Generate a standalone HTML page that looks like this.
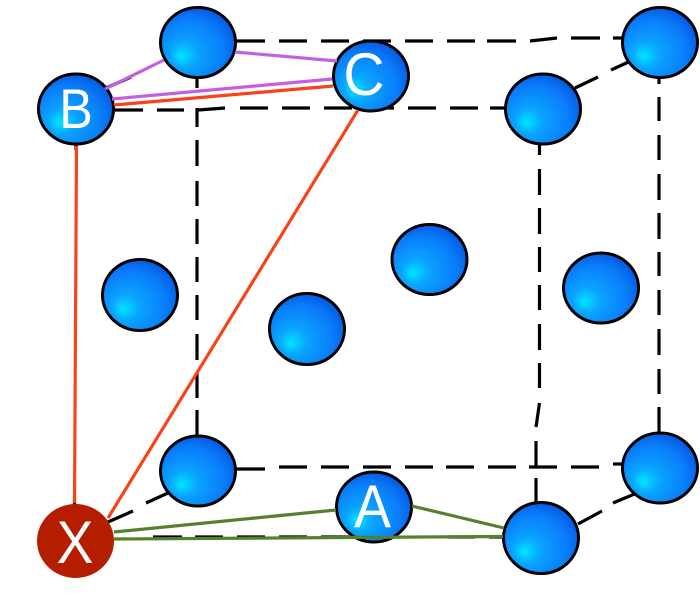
<!DOCTYPE html>
<html><head><meta charset="utf-8"><style>
html,body{margin:0;padding:0;background:#fff;width:700px;height:599px;overflow:hidden}
svg{display:block}
text{font-family:"Liberation Sans",sans-serif;fill:#fff;text-anchor:middle}
</style></head><body>
<svg width="700" height="599" viewBox="0 0 700 599" xmlns="http://www.w3.org/2000/svg">
<defs>
<radialGradient id="g" cx="0.42" cy="0.62" r="0.66" fx="0.27" fy="0.70">
<stop offset="0" stop-color="#00e6ff"/>
<stop offset="0.28" stop-color="#0aa4ff"/>
<stop offset="0.72" stop-color="#0a7cfa"/>
<stop offset="1" stop-color="#0456e0"/>
</radialGradient>
</defs>
<g stroke="#000" stroke-width="3.2" fill="none">
<path d="M236 41H265M279 41H307M321 41H349M363 41H391M405 41H433M447 41H475M487 41H516M530 41L557 38M571 38H600M613 38H624"/>
<path d="M114 110H143M157 110H184M198 110L225 108M240 108H268M282 108H310M324 108H352M366 108H394M408 108H436M450 108H478M490 108H506"/>
<path d="M197 78V88M197 108V127M197 140V166M197 181V206M197 219V244M197 257V282M197 295V320M197 334V360M197 372V398M197 410V437"/>
<path d="M236 469H265M279 467H307M321 467H349M363 467H391M405 467H433M446 467H474M488 467H516M529 467H557M571 467H599M613 464H624"/>
<path d="M539.5 145V155M539.5 169V195M539.5 208V234M539.5 247V272M539.5 285V310M539.5 324V350M539.5 363V388M539.5 403L536 427M536 441V467M536 478V503"/>
<path d="M659 78V84M659 97V121M659 135V160M659 174V200M659 213V239M659 252V276M659 290V315M659 329V355M659 369V394M659 407V434"/>
<path d="M108 522L133 511M146 503L168 493M578 524L602 511M613 503L637 493M575 88L598 77M611 70L635 59M106 88L131 77"/>
<path d="M153 537H182M195 537H223M237 537H265M279 537H307M321 537H349M447 537H475M489 537H503M76 144V150M74.5 498V505"/>
</g>
<g fill="url(#g)" stroke="#000" stroke-width="3">
<ellipse cx="198" cy="42.5" rx="37.5" ry="35"/>
<ellipse cx="660" cy="42.5" rx="37.5" ry="35"/>
<ellipse cx="543" cy="109" rx="37.5" ry="35"/>
<ellipse cx="140" cy="295" rx="37.5" ry="35.5"/>
<ellipse cx="307" cy="329" rx="37.5" ry="35.5"/>
<ellipse cx="429.5" cy="259.5" rx="37.5" ry="35"/>
<ellipse cx="601" cy="288" rx="37.5" ry="35"/>
<ellipse cx="198" cy="471" rx="37.5" ry="35"/>
<ellipse cx="660" cy="468" rx="37.5" ry="35"/>
<ellipse cx="541" cy="538" rx="37.5" ry="35.5"/>
<ellipse cx="371" cy="76" rx="37.5" ry="35"/>
<ellipse cx="76" cy="109" rx="37.5" ry="35"/>
<ellipse cx="374" cy="507" rx="37.5" ry="35"/>
</g>
<ellipse cx="75.5" cy="541" rx="38.5" ry="37" fill="#b51d00"/>
<g fill="none" stroke="#c45fe0" stroke-width="3.2">
<path d="M105 89L164 60M235 52L337 61M112 99L332 79"/>
</g>
<g fill="none" stroke="#f9421a" stroke-width="3.2">
<path d="M114 105L333 86M358 110L108 518M76.5 146L74.5 503"/>
</g>
<g fill="none" stroke="#55802e" stroke-width="3.2">
<path d="M114 532L336 510M412 506L504 528M114 539L503 536.5"/>
</g>
<text transform="translate(76 128) scale(.9 1)" font-size="56">B</text>
<text transform="translate(364 95) scale(.95 1)" font-size="60">C</text>
<text transform="translate(372.5 527) scale(.92 1)" font-size="60">A</text>
<text transform="translate(75 563) scale(.92 1)" font-size="60">X</text>
</svg>
</body></html>
